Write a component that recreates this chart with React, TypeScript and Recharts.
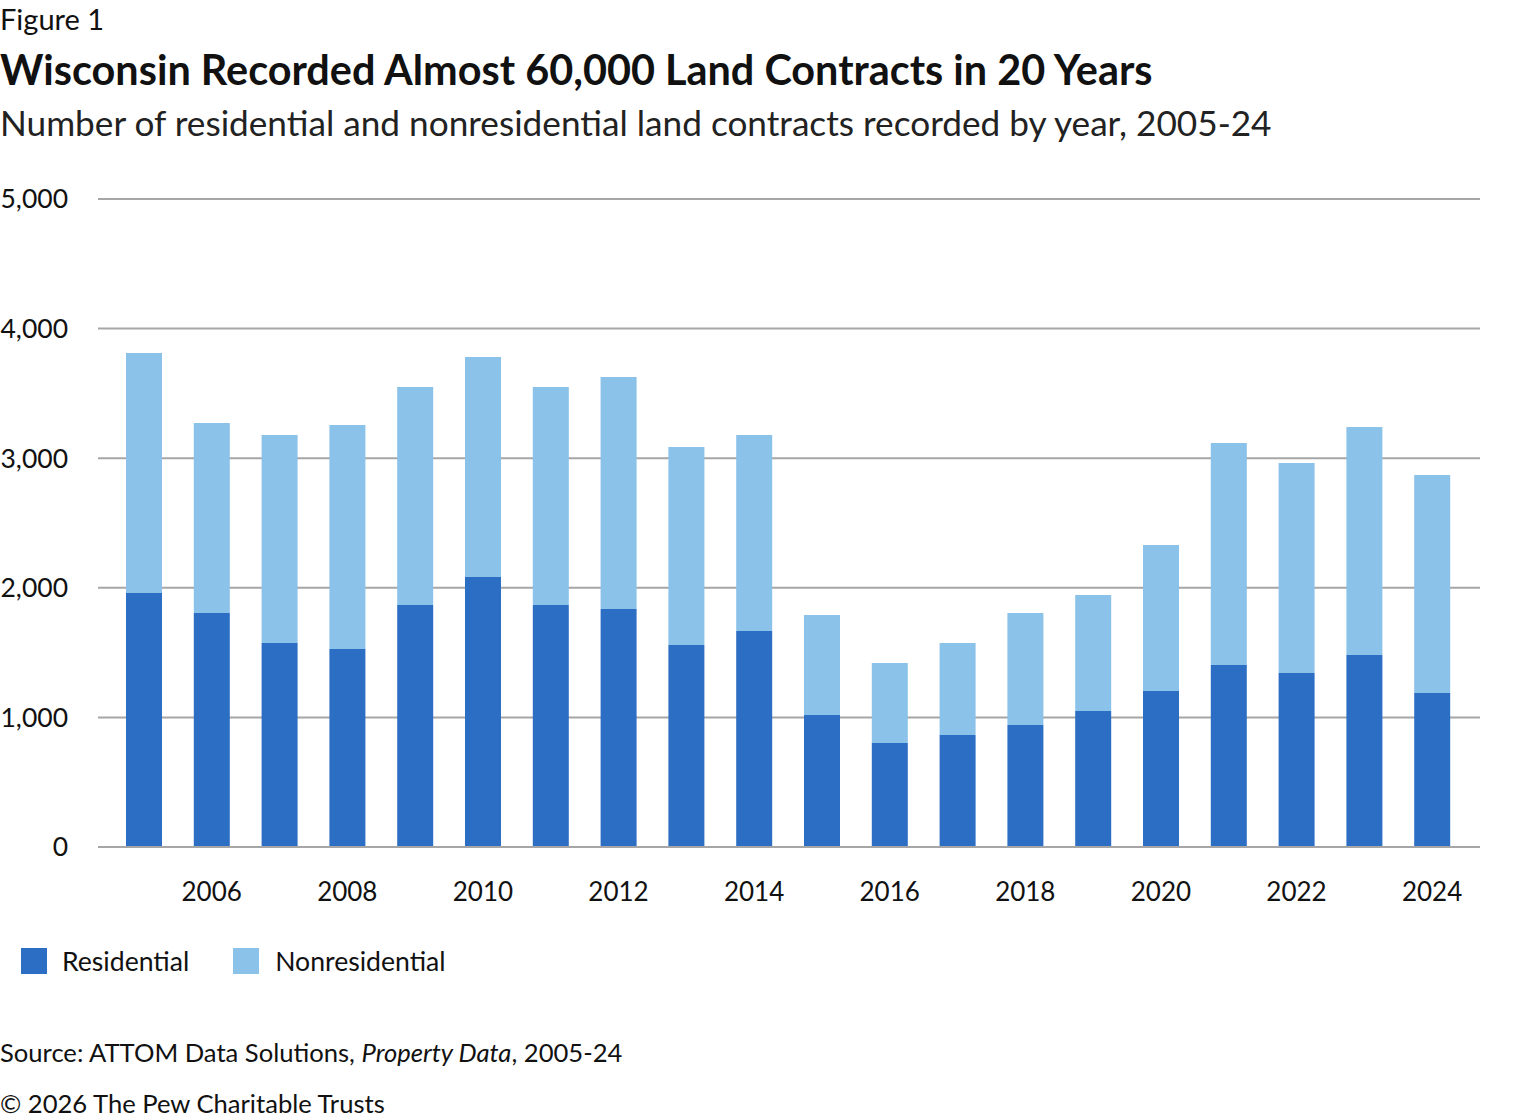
import React from 'react'
import { Bar, BarChart, CartesianGrid, XAxis, YAxis } from 'recharts'

const years = ['2005', '2006', '2007', '2008', '2009', '2010', '2011', '2012', '2013', '2014',
  '2015', '2016', '2017', '2018', '2019', '2020', '2021', '2022', '2023', '2024']
const residential = [1960, 1806, 1574, 1528, 1867, 2083, 1867, 1836, 1559, 1667,
  1019, 802, 864, 941, 1049, 1204, 1404, 1343, 1481, 1188]
const nonresidential = [1852, 1466, 1605, 1728, 1682, 1698, 1682, 1791, 1527, 1512,
  771, 618, 710, 865, 895, 1126, 1713, 1620, 1760, 1682]
const yTicks = [0, 1000, 2000, 3000, 4000, 5000]

const data = years.map((year, i) => ({
  year,
  residential: residential[i],
  nonresidential: nonresidential[i],
}))

const FONT = 'Lato, "Noto Sans", sans-serif'
const DARK = '#2c6ec4'
const LIGHT = '#8bc2e9'

export default function App() {
  return (
    <div style={{ position: 'absolute', left: 0, top: 0, width: 1520, height: 1120, background: '#fff', fontFamily: FONT, color: '#111' }}>
      <div style={{ position: 'absolute', left: 0, top: 1, fontSize: 29 }}>Figure 1</div>
      <div style={{ position: 'absolute', left: 0, top: 44, fontSize: 41.4, fontWeight: 700 }}>
        Wisconsin Recorded Almost 60,000 Land Contracts in 20 Years
      </div>
      <div style={{ position: 'absolute', left: 0, top: 101, fontSize: 35.2, color: '#222' }}>
        Number of residential and nonresidential land contracts recorded by year, 2005-24
      </div>

      <div style={{ position: 'absolute', left: 0, top: 180 }}>
        <BarChart width={1500} height={740} data={data} margin={{ top: 19, right: 20, bottom: 13, left: 0 }} barSize={36}>
          <CartesianGrid vertical={false} stroke="#a6a6a6" strokeWidth={2} />
          <XAxis
            dataKey="year"
            interval={0}
            tickFormatter={(v) => (Number(v) % 2 === 0 ? v : '')}
            tickLine={false}
            tickSize={0}
            tickMargin={36}
            height={60}
            padding={{ left: 12, right: 14 }}
            axisLine={{ stroke: '#a6a6a6', strokeWidth: 2 }}
            tick={{ fill: '#111', fontSize: 26, fontFamily: FONT }}
          />
          <YAxis
            domain={[0, 5000]}
            ticks={yTicks}
            width={98}
            axisLine={false}
            tickLine={false}
            tickSize={0}
            tickMargin={30}
            tickFormatter={(v) => v.toLocaleString('en-US')}
            tick={{ fill: '#111', fontSize: 26.5, fontFamily: FONT }}
          />
          <Bar dataKey="residential" stackId="a" fill={DARK} isAnimationActive={false} />
          <Bar dataKey="nonresidential" stackId="a" fill={LIGHT} isAnimationActive={false} />
        </BarChart>
      </div>

      <div style={{ position: 'absolute', left: 21, top: 945, display: 'flex', alignItems: 'center', fontSize: 26.6 }}>
        <span style={{ width: 26, height: 26, background: DARK, display: 'inline-block' }} />
        <span style={{ marginLeft: 15 }}>Residential</span>
        <span style={{ width: 26, height: 26, background: LIGHT, display: 'inline-block', marginLeft: 44 }} />
        <span style={{ marginLeft: 16 }}>Nonresidential</span>
      </div>

      <div style={{ position: 'absolute', left: 0, top: 1037, fontSize: 25.6 }}>
        Source: ATTOM Data Solutions, <i>Property Data</i>, 2005-24
      </div>
      <div style={{ position: 'absolute', left: 0, top: 1088, fontSize: 25.6 }}>
        © 2026 The Pew Charitable Trusts
      </div>
    </div>
  )
}
